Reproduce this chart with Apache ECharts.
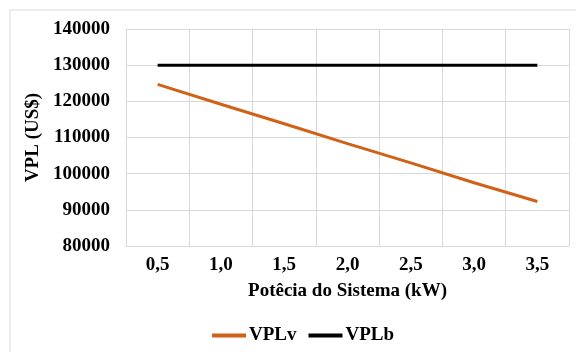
<!DOCTYPE html>
<html>
<head>
<meta charset="utf-8">
<script src="https://cdn.jsdelivr.net/npm/echarts@6/dist/echarts.min.js"></script>
<style>
  html, body { margin: 0; padding: 0; background: #ffffff; }
  #chart { width: 576px; height: 352px; }
</style>
</head>
<body>
<div id="chart"></div>
<script>
// System power categories (kW)
const potencias = ['0,5', '1,0', '1,5', '2,0', '2,5', '3,0', '3,5'];
// Net present value series (US$)
const vplV = [124700, 119200, 113800, 108300, 103000, 97500, 92300];
const vplB = [130000, 130000, 130000, 130000, 130000, 130000, 130000];

const FONT = '"Liberation Serif", "Times New Roman", serif';
const GRID_COLOR = '#d9d9d9';
const TEXT = { fontFamily: FONT, fontWeight: 'bold', fontSize: 19, color: '#000' };

const chart = echarts.init(document.getElementById('chart'), null, { renderer: 'canvas' });

chart.setOption({
  animation: false,
  backgroundColor: '#ffffff',
  graphic: [{
    type: 'rect',
    shape: { x: 10, y: 10, width: 700, height: 500 },
    style: { fill: 'none', stroke: GRID_COLOR, lineWidth: 1 },
    silent: true
  }],
  grid: { left: 126, right: 7, top: 29, bottom: 106, containLabel: false },
  legend: {
    top: 321,
    left: 207,
    icon: 'rect',
    itemWidth: 34,
    itemHeight: 4,
    itemGap: 12,
    textStyle: Object.assign({ padding: [0, 0, 0, -2] }, TEXT),
    data: ['VPLv', 'VPLb']
  },
  xAxis: {
    type: 'category',
    data: potencias,
    boundaryGap: true,
    name: 'Potêcia do Sistema (kW)',
    nameLocation: 'middle',
    nameGap: 36,
    nameTextStyle: Object.assign({}, TEXT),
    axisLine: { show: true, lineStyle: { color: GRID_COLOR, width: 1 } },
    axisTick: { show: false },
    axisLabel: Object.assign({ margin: 10 }, TEXT),
    splitLine: { show: true, lineStyle: { color: GRID_COLOR, width: 1 } }
  },
  yAxis: {
    type: 'value',
    min: 80000,
    max: 140000,
    interval: 10000,
    name: 'VPL (US$)',
    nameLocation: 'middle',
    nameGap: 68,
    nameTextStyle: Object.assign({}, TEXT),
    axisLine: { show: false },
    axisTick: { show: false },
    axisLabel: Object.assign({ margin: 16, formatter: (v) => String(v) }, TEXT),
    splitLine: { show: true, lineStyle: { color: GRID_COLOR, width: 1 } }
  },
  series: [
    {
      name: 'VPLv',
      type: 'line',
      data: vplV,
      symbol: 'none',
      itemStyle: { color: '#cf6218' },
      lineStyle: { color: '#cf6218', width: 3 }
    },
    {
      name: 'VPLb',
      type: 'line',
      data: vplB,
      symbol: 'none',
      itemStyle: { color: '#000000' },
      lineStyle: { color: '#000000', width: 3 }
    }
  ]
});
</script>
</body>
</html>
